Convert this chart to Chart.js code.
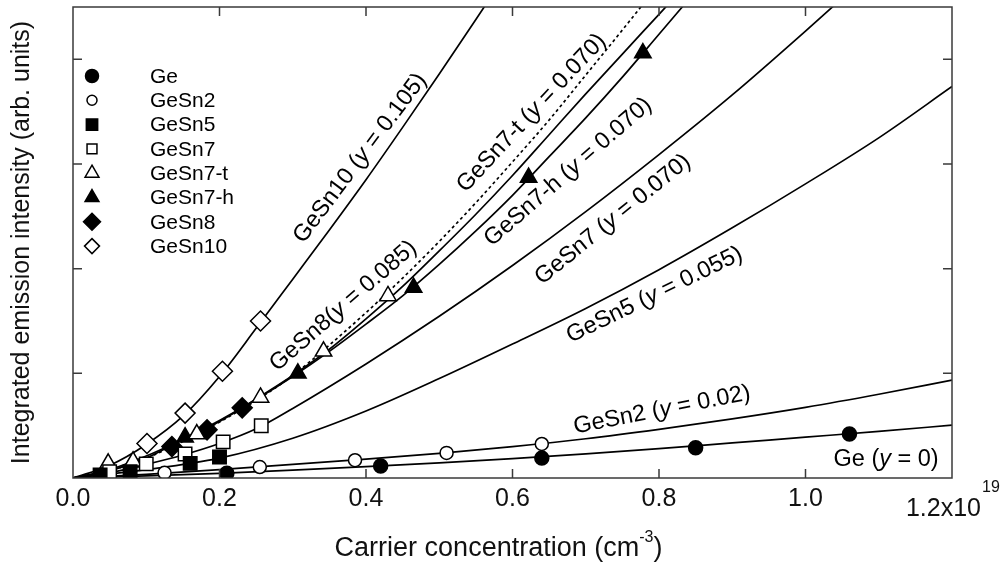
<!DOCTYPE html>
<html>
<head>
<meta charset="utf-8">
<script src="https://cdn.jsdelivr.net/npm/chart.js@4.4.1/dist/chart.umd.min.js"></script>
<style>
  html, body { margin: 0; padding: 0; background: #fff; }
  #wrap { width: 1005px; height: 565px; }
</style>
</head>
<body>
<div id="wrap"><canvas id="c" width="1005" height="565"></canvas></div>
<script>
// x: carrier concentration in 1e19 cm^-3, y: integrated emission intensity (arb. units)
const FONT = '"Liberation Sans", Arial, Helvetica, sans-serif';

const seriesNames = ['Ge', 'GeSn2', 'GeSn5', 'GeSn7', 'GeSn7-t', 'GeSn7-h', 'GeSn8', 'GeSn10'];

// measured points
const geX = [0.21, 0.42, 0.64, 0.85, 1.06];
const geY = [0.045, 0.115, 0.19, 0.29, 0.42];
const gesn2X = [0.125, 0.255, 0.385, 0.51, 0.64];
const gesn2Y = [0.05, 0.105, 0.17, 0.24, 0.325];
const gesn5X = [0.037, 0.078, 0.16, 0.20];
const gesn5Y = [0.03, 0.06, 0.14, 0.20];
const gesn7X = [0.05, 0.10, 0.153, 0.205, 0.257];
const gesn7Y = [0.06, 0.135, 0.23, 0.345, 0.50];
const gesn7tX = [0.048, 0.082, 0.169, 0.256, 0.342, 0.43];
const gesn7tY = [0.14, 0.16, 0.42, 0.77, 1.21, 1.74];
const gesn7hX = [0.082, 0.153, 0.307, 0.465, 0.622, 0.778];
const gesn7hY = [0.15, 0.39, 1.0, 1.82, 2.87, 4.06];
const gesn8X = [0.135, 0.183, 0.231];
const gesn8Y = [0.30, 0.46, 0.67];
const gesn10X = [0.101, 0.153, 0.204, 0.256];
const gesn10Y = [0.33, 0.62, 1.02, 1.50];

// fitted curves
const fitX = [0, 0.1, 0.2, 0.3, 0.4, 0.5, 0.6, 0.7, 0.8, 0.9, 1.0, 1.1, 1.2];
const geFit = [0, 0.02, 0.045, 0.075, 0.108, 0.145, 0.185, 0.23, 0.28, 0.335, 0.39, 0.445, 0.505];
const gesn2Fit = [0, 0.035, 0.08, 0.13, 0.18, 0.235, 0.30, 0.375, 0.465, 0.565, 0.675, 0.80, 0.935];
const gesn5Fit = [0, 0.08, 0.19, 0.38, 0.64, 0.95, 1.28, 1.62, 1.99, 2.39, 2.81, 3.25, 3.74];
const gesn7FitX = [0, 0.05, 0.1, 0.15, 0.2, 0.25, 0.3, 0.4, 0.5, 0.6, 0.7, 0.8, 0.9, 1.0, 1.1];
const gesn7Fit = [0, 0.05, 0.13, 0.22, 0.33, 0.47, 0.665, 1.09, 1.545, 2.03, 2.545, 3.09, 3.66, 4.27, 4.9];
const steepX = [0, 0.05, 0.1, 0.15, 0.2, 0.25, 0.3, 0.35, 0.4, 0.45, 0.5, 0.55, 0.6, 0.65, 0.7, 0.75, 0.8, 0.85];
const gesn7tFit = [0, 0.07, 0.19, 0.35, 0.535, 0.74, 0.98, 1.27, 1.58, 1.91, 2.26, 2.63, 3.02, 3.42, 3.85, 4.28, 4.72, 5.17];
const gesn7hFit = [0, 0.07, 0.19, 0.37, 0.55, 0.75, 0.97, 1.21, 1.47, 1.74, 2.04, 2.36, 2.70, 3.07, 3.44, 3.83, 4.24, 4.65];
const gesn8Fit = [0, 0.08, 0.21, 0.37, 0.54, 0.755, 0.98, 1.23, 1.52, 1.83, 2.17, 2.52, 2.89, 3.28, 3.67, 4.05, 4.43, 4.81];
const gesn10FitX = [0, 0.05, 0.1, 0.15, 0.2, 0.25, 0.3, 0.35, 0.4, 0.45, 0.5, 0.55, 0.6];
const gesn10Fit = [0, 0.12, 0.32, 0.59, 0.97, 1.43, 1.90, 2.37, 2.85, 3.35, 3.86, 4.38, 4.91];

const xTickValues = [0, 0.2, 0.4, 0.6, 0.8, 1.0, 1.2];
const xTickLabels = ['0.0', '0.2', '0.4', '0.6', '0.8', '1.0', ''];
const yTickValues = [0, 1, 2, 3, 4];

// curve labels: [text before, italic part, text after], anchor in data units, angle
const curveLabels = [
  { parts: ['GeSn10 (', 'y', ' = 0.105)'], x: 0.392, y: 3.056, angle: -53 },
  { parts: ['GeSn8(', 'y', ' = 0.085)'], x: 0.369, y: 1.643, angle: -41 },
  { parts: ['GeSn7-t (', 'y', ' = 0.070)'], x: 0.626, y: 3.486, angle: -47 },
  { parts: ['GeSn7-h (', 'y', ' = 0.070)'], x: 0.676, y: 2.923, angle: -41 },
  { parts: ['GeSn7 (', 'y', ' = 0.070)'], x: 0.737, y: 2.47, angle: -39 },
  { parts: ['GeSn5 (', 'y', ' = 0.055)'], x: 0.794, y: 1.748, angle: -26 },
  { parts: ['GeSn2 (', 'y', ' = 0.02)'], x: 0.804, y: 0.649, angle: -11 },
  { parts: ['Ge (', 'y', ' = 0)'], x: 1.110, y: 0.181, angle: 0 }
];

const toPts = (xs, ys) => xs.map((x, i) => ({ x: x, y: ys[i] }));

// marker styles: [pointStyle, filled, plot radius, legend radius]
const markerStyles = [
  ['circle', true, 7, 6.5],
  ['circle', false, 6.5, 5],
  ['rect', true, 9.5, 8],
  ['rect', false, 9.5, 7],
  ['triangle', false, 9.5, 8],
  ['triangle', true, 9.5, 8],
  ['rectRot', true, 10, 8.5],
  ['rectRot', false, 10, 7.5]
];
const pointSets = [
  [geX, geY], [gesn2X, gesn2Y], [gesn5X, gesn5Y], [gesn7X, gesn7Y],
  [gesn7tX, gesn7tY], [gesn7hX, gesn7hY], [gesn8X, gesn8Y], [gesn10X, gesn10Y]
];
const fitSets = [
  [fitX, geFit, []], [fitX, gesn2Fit, []], [fitX, gesn5Fit, []], [gesn7FitX, gesn7Fit, []],
  [steepX, gesn7tFit, [3, 3]], [steepX, gesn7hFit, []], [steepX, gesn8Fit, []], [gesn10FitX, gesn10Fit, []]
];

const datasets = [];
pointSets.forEach((p, i) => {
  const m = markerStyles[i];
  datasets.push({
    label: seriesNames[i],
    data: toPts(p[0], p[1]),
    showLine: false,
    pointStyle: m[0],
    pointRadius: m[2],
    pointBackgroundColor: m[1] ? '#000' : '#fff',
    pointBorderColor: '#000',
    pointBorderWidth: 1.5,
    order: 0
  });
});
fitSets.forEach((f, i) => {
  datasets.push({
    label: seriesNames[i] + ' fit',
    data: toPts(f[0], f[1]),
    borderColor: '#000',
    borderWidth: 1.7,
    borderDash: f[2],
    pointRadius: 0,
    cubicInterpolationMode: 'monotone',
    order: 1
  });
});

function markerPath(ctx, style, x, y, r) {
  ctx.beginPath();
  if (style === 'circle') {
    ctx.arc(x, y, r, 0, Math.PI * 2);
  } else if (style === 'rect') {
    const s = r * Math.SQRT1_2;
    ctx.rect(x - s, y - s, 2 * s, 2 * s);
  } else if (style === 'triangle') {
    for (let k = 0; k < 3; k++) {
      const a = k * 2 * Math.PI / 3;
      const px = x + r * Math.sin(a), py = y - r * Math.cos(a);
      k ? ctx.lineTo(px, py) : ctx.moveTo(px, py);
    }
  } else {
    ctx.moveTo(x, y - r); ctx.lineTo(x + r, y); ctx.lineTo(x, y + r); ctx.lineTo(x - r, y);
  }
  ctx.closePath();
}

function drawRich(ctx, parts, cx, cy, angleDeg, size) {
  ctx.save();
  ctx.translate(cx, cy);
  ctx.rotate(angleDeg * Math.PI / 180);
  const fonts = parts.map((p, i) => (i === 1 ? 'italic ' : '') + size + 'px ' + FONT);
  const widths = parts.map((p, i) => { ctx.font = fonts[i]; return ctx.measureText(p).width; });
  let x = -widths.reduce((a, b) => a + b, 0) / 2;
  ctx.textBaseline = 'middle';
  ctx.textAlign = 'left';
  ctx.fillStyle = '#000';
  parts.forEach((p, i) => { ctx.font = fonts[i]; ctx.fillText(p, x, 0); x += widths[i]; });
  ctx.restore();
}

const decorations = {
  id: 'decorations',
  afterDraw(chart) {
    const ctx = chart.ctx;
    const a = chart.chartArea;
    const xs = chart.scales.x, ys = chart.scales.y;
    ctx.save();
    // frame
    ctx.strokeStyle = '#3a3a3a';
    ctx.lineWidth = 1.5;
    ctx.strokeRect(a.left, a.top, a.right - a.left, a.bottom - a.top);
    // inward ticks on all four sides
    const tl = 9;
    ctx.beginPath();
    xTickValues.forEach(v => {
      if (v <= xs.min || v >= xs.max) return;
      const px = xs.getPixelForValue(v);
      ctx.moveTo(px, a.bottom); ctx.lineTo(px, a.bottom - tl);
      ctx.moveTo(px, a.top); ctx.lineTo(px, a.top + tl);
    });
    yTickValues.forEach(v => {
      if (v <= ys.min || v >= ys.max) return;
      const py = ys.getPixelForValue(v);
      ctx.moveTo(a.left, py); ctx.lineTo(a.left + tl, py);
      ctx.moveTo(a.right, py); ctx.lineTo(a.right - tl, py);
    });
    ctx.stroke();

    // exponent label at the end of the x axis
    ctx.fillStyle = '#111';
    ctx.textBaseline = 'middle';
    ctx.textAlign = 'right';
    ctx.font = '25px ' + FONT;
    const ex = a.right + 29;
    ctx.fillText('1.2x10', ex, a.bottom + 31);
    ctx.textAlign = 'left';
    ctx.font = '16px ' + FONT;
    ctx.fillText('19', ex + 1, a.bottom + 10);

    // x axis title with superscript
    const tParts = ['Carrier concentration (cm', '-3', ')'];
    const tSizes = [27, 16, 27];
    const tDy = [0, -11, 0];
    const tw = tParts.map((p, i) => { ctx.font = tSizes[i] + 'px ' + FONT; return ctx.measureText(p).width; });
    let tx = (a.left + a.right) / 2 - 14 - tw.reduce((s, w) => s + w, 0) / 2;
    tParts.forEach((p, i) => {
      ctx.font = tSizes[i] + 'px ' + FONT;
      ctx.fillText(p, tx, 549 + tDy[i]);
      tx += tw[i];
    });

    // legend
    const lx = a.left + 19, tx0 = a.left + 77;
    seriesNames.forEach((name, i) => {
      const ly = a.top + 69 + i * 24.3;
      const m = markerStyles[i];
      markerPath(ctx, m[0], lx, ly, m[3]);
      ctx.fillStyle = m[1] ? '#000' : '#fff';
      ctx.fill();
      ctx.strokeStyle = '#000';
      ctx.lineWidth = 1.5;
      ctx.stroke();
      ctx.fillStyle = '#000';
      ctx.font = '21px ' + FONT;
      ctx.textAlign = 'left';
      ctx.fillText(name, tx0, ly + 1);
    });

    // curve labels
    curveLabels.forEach(l => {
      drawRich(ctx, l.parts, xs.getPixelForValue(l.x), ys.getPixelForValue(l.y), l.angle, 23.5);
    });
    ctx.restore();
  }
};

new Chart(document.getElementById('c'), {
  type: 'line',
  data: { datasets: datasets },
  options: {
    responsive: false,
    animation: false,
    devicePixelRatio: 1,
    layout: { autoPadding: false, padding: { top: 7, right: 53, left: 0, bottom: 0 } },
    plugins: { legend: { display: false }, tooltip: { enabled: false } },
    scales: {
      x: {
        type: 'linear',
        min: 0,
        max: 1.2,
        afterBuildTicks: s => { s.ticks = xTickValues.map(v => ({ value: v })); },
        afterFit: s => { s.height = 87; },
        grid: { display: false, drawTicks: false },
        border: { display: false },
        ticks: {
          padding: 6,
          maxRotation: 0,
          autoSkip: false,
          color: '#111',
          font: { family: FONT, size: 25 },
          callback: (v, i) => xTickLabels[i]
        }
      },
      y: {
        type: 'linear',
        min: 0,
        max: 4.5,
        afterBuildTicks: s => { s.ticks = yTickValues.map(v => ({ value: v })); },
        afterFit: s => { s.width = 73; },
        grid: { display: false, drawTicks: false },
        border: { display: false },
        ticks: { display: false },
        title: {
          display: true,
          text: 'Integrated emission intensity (arb. units)',
          color: '#111',
          font: { family: FONT, size: 25 },
          padding: { top: 7, bottom: 0 }
        }
      }
    }
  },
  plugins: [decorations]
});
</script>
</body>
</html>
